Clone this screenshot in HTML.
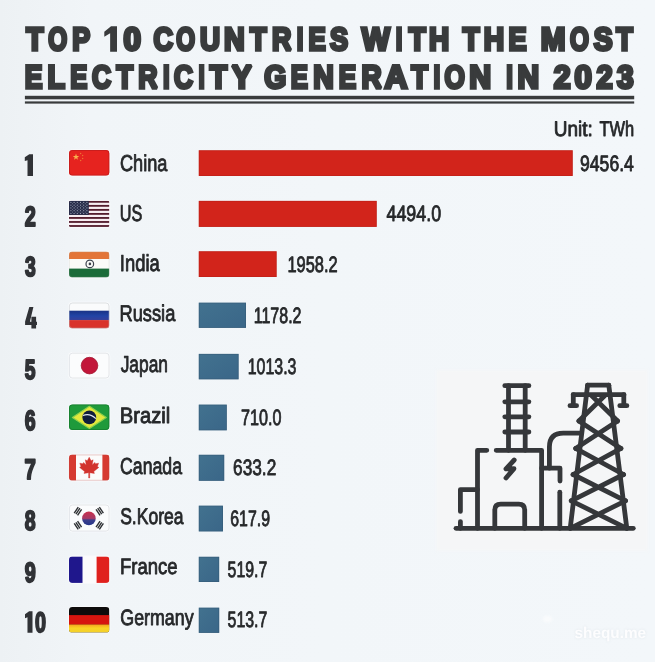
<!DOCTYPE html>
<html><head><meta charset="utf-8"><title>Top 10 Countries With The Most Electricity Generation In 2023</title>
<style>
html,body{margin:0;padding:0}
body{width:655px;height:662px;overflow:hidden;background:#f2f6f9}
svg{display:block;font-family:"Liberation Sans",sans-serif}
text{white-space:pre;text-rendering:geometricPrecision}
</style></head><body>
<svg width="655" height="662" viewBox="0 0 655 662">
<linearGradient id="bgg" x1="0" y1="0" x2="1" y2="0"><stop offset="0" stop-color="#edf1f4"/><stop offset="0.14" stop-color="#f1f5f8"/><stop offset="0.5" stop-color="#f2f6f9"/><stop offset="1" stop-color="#f3f7fa"/></linearGradient>
<rect width="655" height="662" fill="url(#bgg)"/>
<g opacity="0.999">
<text transform="translate(26.37,50.05) scale(0.8759,1)" font-size="32.12" fill="#393b3c" font-weight="bold" stroke="#393b3c" stroke-width="3.3" vector-effect="non-scaling-stroke" stroke-linejoin="miter" stroke-miterlimit="2">T</text>
<text transform="translate(48.28,50.40) scale(0.7626,1)" font-size="31.89" fill="#393b3c" font-weight="bold" stroke="#393b3c" stroke-width="3.3" vector-effect="non-scaling-stroke" stroke-linejoin="miter" stroke-miterlimit="2">O</text>
<text transform="translate(72.33,50.05) scale(0.8375,1)" font-size="32.12" fill="#393b3c" font-weight="bold" stroke="#393b3c" stroke-width="3.3" vector-effect="non-scaling-stroke" stroke-linejoin="miter" stroke-miterlimit="2">P</text>
<polygon points="117.00,26.30 111.03,26.30 104.30,31.63 104.30,36.84 110.14,33.16 110.14,51.70 117.00,51.70" fill="#393b3c"/>
<text transform="translate(123.60,50.40) scale(0.9837,1)" font-size="31.89" fill="#393b3c" font-weight="bold" stroke="#393b3c" stroke-width="3.3" vector-effect="non-scaling-stroke" stroke-linejoin="miter" stroke-miterlimit="2">0</text>
<text transform="translate(153.57,50.40) scale(0.8474,1)" font-size="31.89" fill="#393b3c" font-weight="bold" stroke="#393b3c" stroke-width="3.3" vector-effect="non-scaling-stroke" stroke-linejoin="miter" stroke-miterlimit="2">C</text>
<text transform="translate(176.28,50.40) scale(0.7580,1)" font-size="31.89" fill="#393b3c" font-weight="bold" stroke="#393b3c" stroke-width="3.3" vector-effect="non-scaling-stroke" stroke-linejoin="miter" stroke-miterlimit="2">O</text>
<text transform="translate(200.09,50.05) scale(0.8629,1)" font-size="32.12" fill="#393b3c" font-weight="bold" stroke="#393b3c" stroke-width="3.3" vector-effect="non-scaling-stroke" stroke-linejoin="miter" stroke-miterlimit="2">U</text>
<text transform="translate(224.12,50.05) scale(0.8902,1)" font-size="32.12" fill="#393b3c" font-weight="bold" stroke="#393b3c" stroke-width="3.3" vector-effect="non-scaling-stroke" stroke-linejoin="miter" stroke-miterlimit="2">N</text>
<text transform="translate(250.08,50.05) scale(0.8442,1)" font-size="32.12" fill="#393b3c" font-weight="bold" stroke="#393b3c" stroke-width="3.3" vector-effect="non-scaling-stroke" stroke-linejoin="miter" stroke-miterlimit="2">T</text>
<text transform="translate(272.04,50.05) scale(0.8367,1)" font-size="32.12" fill="#393b3c" font-weight="bold" stroke="#393b3c" stroke-width="3.3" vector-effect="non-scaling-stroke" stroke-linejoin="miter" stroke-miterlimit="2">R</text>
<text transform="translate(296.74,50.05) scale(0.7428,1)" font-size="32.12" fill="#393b3c" font-weight="bold" stroke="#393b3c" stroke-width="3.3" vector-effect="non-scaling-stroke" stroke-linejoin="miter" stroke-miterlimit="2">I</text>
<text transform="translate(308.40,50.05) scale(0.8061,1)" font-size="32.12" fill="#393b3c" font-weight="bold" stroke="#393b3c" stroke-width="3.3" vector-effect="non-scaling-stroke" stroke-linejoin="miter" stroke-miterlimit="2">E</text>
<text transform="translate(329.94,50.40) scale(0.8503,1)" font-size="31.89" fill="#393b3c" font-weight="bold" stroke="#393b3c" stroke-width="3.3" vector-effect="non-scaling-stroke" stroke-linejoin="miter" stroke-miterlimit="2">S</text>
<text transform="translate(361.65,50.05) scale(0.9282,1)" font-size="32.12" fill="#393b3c" font-weight="bold" stroke="#393b3c" stroke-width="3.3" vector-effect="non-scaling-stroke" stroke-linejoin="miter" stroke-miterlimit="2">W</text>
<text transform="translate(395.64,50.05) scale(0.7428,1)" font-size="32.12" fill="#393b3c" font-weight="bold" stroke="#393b3c" stroke-width="3.3" vector-effect="non-scaling-stroke" stroke-linejoin="miter" stroke-miterlimit="2">I</text>
<text transform="translate(408.77,50.05) scale(0.8653,1)" font-size="32.12" fill="#393b3c" font-weight="bold" stroke="#393b3c" stroke-width="3.3" vector-effect="non-scaling-stroke" stroke-linejoin="miter" stroke-miterlimit="2">T</text>
<text transform="translate(429.07,50.05) scale(0.8690,1)" font-size="32.12" fill="#393b3c" font-weight="bold" stroke="#393b3c" stroke-width="3.3" vector-effect="non-scaling-stroke" stroke-linejoin="miter" stroke-miterlimit="2">H</text>
<text transform="translate(462.68,50.05) scale(0.8548,1)" font-size="32.12" fill="#393b3c" font-weight="bold" stroke="#393b3c" stroke-width="3.3" vector-effect="non-scaling-stroke" stroke-linejoin="miter" stroke-miterlimit="2">T</text>
<text transform="translate(483.84,50.05) scale(0.8796,1)" font-size="32.12" fill="#393b3c" font-weight="bold" stroke="#393b3c" stroke-width="3.3" vector-effect="non-scaling-stroke" stroke-linejoin="miter" stroke-miterlimit="2">H</text>
<text transform="translate(508.42,50.05) scale(0.8450,1)" font-size="32.12" fill="#393b3c" font-weight="bold" stroke="#393b3c" stroke-width="3.3" vector-effect="non-scaling-stroke" stroke-linejoin="miter" stroke-miterlimit="2">E</text>
<text transform="translate(540.74,50.05) scale(0.9250,1)" font-size="32.12" fill="#393b3c" font-weight="bold" stroke="#393b3c" stroke-width="3.3" vector-effect="non-scaling-stroke" stroke-linejoin="miter" stroke-miterlimit="2">M</text>
<text transform="translate(570.08,50.40) scale(0.7626,1)" font-size="31.89" fill="#393b3c" font-weight="bold" stroke="#393b3c" stroke-width="3.3" vector-effect="non-scaling-stroke" stroke-linejoin="miter" stroke-miterlimit="2">O</text>
<text transform="translate(593.70,50.40) scale(0.8870,1)" font-size="31.89" fill="#393b3c" font-weight="bold" stroke="#393b3c" stroke-width="3.3" vector-effect="non-scaling-stroke" stroke-linejoin="miter" stroke-miterlimit="2">S</text>
<text transform="translate(616.18,50.05) scale(0.8442,1)" font-size="32.12" fill="#393b3c" font-weight="bold" stroke="#393b3c" stroke-width="3.3" vector-effect="non-scaling-stroke" stroke-linejoin="miter" stroke-miterlimit="2">T</text>
<text transform="translate(24.85,87.95) scale(0.8209,1)" font-size="32.41" fill="#393b3c" font-weight="bold" stroke="#393b3c" stroke-width="3.3" vector-effect="non-scaling-stroke" stroke-linejoin="miter" stroke-miterlimit="2">E</text>
<text transform="translate(47.41,87.95) scale(0.8849,1)" font-size="32.41" fill="#393b3c" font-weight="bold" stroke="#393b3c" stroke-width="3.3" vector-effect="non-scaling-stroke" stroke-linejoin="miter" stroke-miterlimit="2">L</text>
<text transform="translate(70.33,87.95) scale(0.7878,1)" font-size="32.41" fill="#393b3c" font-weight="bold" stroke="#393b3c" stroke-width="3.3" vector-effect="non-scaling-stroke" stroke-linejoin="miter" stroke-miterlimit="2">E</text>
<text transform="translate(91.99,88.30) scale(0.8211,1)" font-size="32.17" fill="#393b3c" font-weight="bold" stroke="#393b3c" stroke-width="3.3" vector-effect="non-scaling-stroke" stroke-linejoin="miter" stroke-miterlimit="2">C</text>
<text transform="translate(116.38,87.95) scale(0.8367,1)" font-size="32.41" fill="#393b3c" font-weight="bold" stroke="#393b3c" stroke-width="3.3" vector-effect="non-scaling-stroke" stroke-linejoin="miter" stroke-miterlimit="2">T</text>
<text transform="translate(138.35,87.95) scale(0.8243,1)" font-size="32.41" fill="#393b3c" font-weight="bold" stroke="#393b3c" stroke-width="3.3" vector-effect="non-scaling-stroke" stroke-linejoin="miter" stroke-miterlimit="2">R</text>
<text transform="translate(162.94,87.95) scale(0.7361,1)" font-size="32.41" fill="#393b3c" font-weight="bold" stroke="#393b3c" stroke-width="3.3" vector-effect="non-scaling-stroke" stroke-linejoin="miter" stroke-miterlimit="2">I</text>
<text transform="translate(174.10,88.30) scale(0.8163,1)" font-size="32.17" fill="#393b3c" font-weight="bold" stroke="#393b3c" stroke-width="3.3" vector-effect="non-scaling-stroke" stroke-linejoin="miter" stroke-miterlimit="2">C</text>
<text transform="translate(198.43,87.95) scale(0.6928,1)" font-size="32.41" fill="#393b3c" font-weight="bold" stroke="#393b3c" stroke-width="3.3" vector-effect="non-scaling-stroke" stroke-linejoin="miter" stroke-miterlimit="2">I</text>
<text transform="translate(209.87,87.95) scale(0.8785,1)" font-size="32.41" fill="#393b3c" font-weight="bold" stroke="#393b3c" stroke-width="3.3" vector-effect="non-scaling-stroke" stroke-linejoin="miter" stroke-miterlimit="2">T</text>
<text transform="translate(231.72,87.95) scale(0.9268,1)" font-size="32.41" fill="#393b3c" font-weight="bold" stroke="#393b3c" stroke-width="3.3" vector-effect="non-scaling-stroke" stroke-linejoin="miter" stroke-miterlimit="2">Y</text>
<text transform="translate(264.32,88.30) scale(0.8796,1)" font-size="32.17" fill="#393b3c" font-weight="bold" stroke="#393b3c" stroke-width="3.3" vector-effect="non-scaling-stroke" stroke-linejoin="miter" stroke-miterlimit="2">G</text>
<text transform="translate(290.71,87.95) scale(0.7933,1)" font-size="32.41" fill="#393b3c" font-weight="bold" stroke="#393b3c" stroke-width="3.3" vector-effect="non-scaling-stroke" stroke-linejoin="miter" stroke-miterlimit="2">E</text>
<text transform="translate(313.33,87.95) scale(0.8770,1)" font-size="32.41" fill="#393b3c" font-weight="bold" stroke="#393b3c" stroke-width="3.3" vector-effect="non-scaling-stroke" stroke-linejoin="miter" stroke-miterlimit="2">N</text>
<text transform="translate(338.69,87.95) scale(0.8044,1)" font-size="32.41" fill="#393b3c" font-weight="bold" stroke="#393b3c" stroke-width="3.3" vector-effect="non-scaling-stroke" stroke-linejoin="miter" stroke-miterlimit="2">E</text>
<text transform="translate(361.46,87.95) scale(0.8634,1)" font-size="32.41" fill="#393b3c" font-weight="bold" stroke="#393b3c" stroke-width="3.3" vector-effect="non-scaling-stroke" stroke-linejoin="miter" stroke-miterlimit="2">R</text>
<text transform="translate(384.46,87.95) scale(0.9808,1)" font-size="32.41" fill="#393b3c" font-weight="bold" stroke="#393b3c" stroke-width="3.3" vector-effect="non-scaling-stroke" stroke-linejoin="miter" stroke-miterlimit="2">A</text>
<text transform="translate(411.28,87.95) scale(0.8419,1)" font-size="32.41" fill="#393b3c" font-weight="bold" stroke="#393b3c" stroke-width="3.3" vector-effect="non-scaling-stroke" stroke-linejoin="miter" stroke-miterlimit="2">T</text>
<text transform="translate(433.49,87.95) scale(0.7578,1)" font-size="32.41" fill="#393b3c" font-weight="bold" stroke="#393b3c" stroke-width="3.3" vector-effect="non-scaling-stroke" stroke-linejoin="miter" stroke-miterlimit="2">I</text>
<text transform="translate(444.60,88.30) scale(0.8141,1)" font-size="32.17" fill="#393b3c" font-weight="bold" stroke="#393b3c" stroke-width="3.3" vector-effect="non-scaling-stroke" stroke-linejoin="miter" stroke-miterlimit="2">O</text>
<text transform="translate(469.30,87.95) scale(0.9348,1)" font-size="32.41" fill="#393b3c" font-weight="bold" stroke="#393b3c" stroke-width="3.3" vector-effect="non-scaling-stroke" stroke-linejoin="miter" stroke-miterlimit="2">N</text>
<text transform="translate(506.34,87.95) scale(0.7361,1)" font-size="32.41" fill="#393b3c" font-weight="bold" stroke="#393b3c" stroke-width="3.3" vector-effect="non-scaling-stroke" stroke-linejoin="miter" stroke-miterlimit="2">I</text>
<text transform="translate(517.53,87.95) scale(0.9242,1)" font-size="32.41" fill="#393b3c" font-weight="bold" stroke="#393b3c" stroke-width="3.3" vector-effect="non-scaling-stroke" stroke-linejoin="miter" stroke-miterlimit="2">N</text>
<text transform="translate(553.69,88.30) scale(0.9407,1)" font-size="32.17" fill="#393b3c" font-weight="bold" stroke="#393b3c" stroke-width="3.3" vector-effect="non-scaling-stroke" stroke-linejoin="miter" stroke-miterlimit="2">2</text>
<text transform="translate(574.40,88.30) scale(0.9686,1)" font-size="32.17" fill="#393b3c" font-weight="bold" stroke="#393b3c" stroke-width="3.3" vector-effect="non-scaling-stroke" stroke-linejoin="miter" stroke-miterlimit="2">0</text>
<text transform="translate(596.43,88.30) scale(0.9020,1)" font-size="32.17" fill="#393b3c" font-weight="bold" stroke="#393b3c" stroke-width="3.3" vector-effect="non-scaling-stroke" stroke-linejoin="miter" stroke-miterlimit="2">2</text>
<text transform="translate(616.88,88.30) scale(0.9310,1)" font-size="32.17" fill="#393b3c" font-weight="bold" stroke="#393b3c" stroke-width="3.3" vector-effect="non-scaling-stroke" stroke-linejoin="miter" stroke-miterlimit="2">3</text>
<rect x="24.90" y="95.80" width="609.30" height="3.50" fill="#393b3c" />
<rect x="24.90" y="101.40" width="609.30" height="2.20" fill="#393b3c" />
<text transform="translate(553.75,135.57) scale(0.8981,1)" font-size="21.15" fill="#26282a" stroke="#26282a" stroke-width="0.85" vector-effect="non-scaling-stroke" stroke-linejoin="round">Unit:</text>
<text transform="translate(599.56,135.57) scale(0.7764,1)" font-size="21.15" fill="#26282a" stroke="#26282a" stroke-width="0.85" vector-effect="non-scaling-stroke" stroke-linejoin="round">TWh</text>
<polygon points="33.00,154.20 29.31,154.20 24.80,157.20 24.80,161.10 27.51,160.20 27.51,176.00 33.00,176.00" fill="#303236"/>
<text transform="translate(24.70,225.90) scale(0.7079,1)" font-size="28.11" fill="#303236" font-weight="bold" stroke="#303236" stroke-width="2.0" vector-effect="non-scaling-stroke" stroke-linejoin="round">2</text>
<text transform="translate(24.97,275.90) scale(0.6970,1)" font-size="27.68" fill="#303236" font-weight="bold" stroke="#303236" stroke-width="2.0" vector-effect="non-scaling-stroke" stroke-linejoin="round">3</text>
<path d="M29.3,307.0 L33.4,307.0 L29.9,321.8 L37.0,321.8 L37.0,325.0 L25.1,325.0 L25.1,321.4 Z M31.4,316.8 L36.1,316.8 L36.1,328.5 L31.4,328.5 Z" fill="#303236"/>
<text transform="translate(24.82,378.50) scale(0.7006,1)" font-size="27.54" fill="#303236" font-weight="bold" stroke="#303236" stroke-width="2.0" vector-effect="non-scaling-stroke" stroke-linejoin="round">5</text>
<text transform="translate(24.87,430.10) scale(0.6966,1)" font-size="27.97" fill="#303236" font-weight="bold" stroke="#303236" stroke-width="2.0" vector-effect="non-scaling-stroke" stroke-linejoin="round">6</text>
<text transform="translate(24.53,479.10) scale(0.7244,1)" font-size="28.20" fill="#303236" font-weight="bold" stroke="#303236" stroke-width="2.0" vector-effect="non-scaling-stroke" stroke-linejoin="round">7</text>
<text transform="translate(24.77,530.10) scale(0.7041,1)" font-size="27.68" fill="#303236" font-weight="bold" stroke="#303236" stroke-width="2.0" vector-effect="non-scaling-stroke" stroke-linejoin="round">8</text>
<text transform="translate(24.71,581.80) scale(0.7042,1)" font-size="28.11" fill="#303236" font-weight="bold" stroke="#303236" stroke-width="2.0" vector-effect="non-scaling-stroke" stroke-linejoin="round">9</text>
<polygon points="32.50,611.30 29.12,611.30 25.00,614.30 25.00,618.20 27.48,617.30 27.48,632.80 32.50,632.80" fill="#303236"/>
<text transform="translate(35.11,632.20) scale(0.7005,1)" font-size="28.25" fill="#303236" font-weight="bold" stroke="#303236" stroke-width="2.0" vector-effect="non-scaling-stroke" stroke-linejoin="round">0</text>
<text transform="translate(120.02,170.57) scale(0.7878,1)" font-size="23.04" fill="#26282a" stroke="#26282a" stroke-width="0.85" vector-effect="non-scaling-stroke" stroke-linejoin="round">China</text>
<text transform="translate(119.67,220.67) scale(0.7038,1)" font-size="23.04" fill="#26282a" stroke="#26282a" stroke-width="0.85" vector-effect="non-scaling-stroke" stroke-linejoin="round">US</text>
<text transform="translate(119.82,271.38) scale(0.7942,1)" font-size="23.18" fill="#26282a" stroke="#26282a" stroke-width="0.85" vector-effect="non-scaling-stroke" stroke-linejoin="round">India</text>
<text transform="translate(119.42,321.47) scale(0.8046,1)" font-size="22.75" fill="#26282a" stroke="#26282a" stroke-width="0.85" vector-effect="non-scaling-stroke" stroke-linejoin="round">Russia</text>
<text transform="translate(120.66,372.27) scale(0.7494,1)" font-size="23.18" fill="#26282a" stroke="#26282a" stroke-width="0.85" vector-effect="non-scaling-stroke" stroke-linejoin="round">Japan</text>
<text transform="translate(119.86,422.97) scale(0.9050,1)" font-size="22.31" fill="#26282a" stroke="#26282a" stroke-width="0.85" vector-effect="non-scaling-stroke" stroke-linejoin="round">Brazil</text>
<text transform="translate(120.04,473.97) scale(0.7634,1)" font-size="23.18" fill="#26282a" stroke="#26282a" stroke-width="0.85" vector-effect="non-scaling-stroke" stroke-linejoin="round">Canada</text>
<text transform="translate(120.14,523.78) scale(0.7715,1)" font-size="22.75" fill="#26282a" stroke="#26282a" stroke-width="0.85" vector-effect="non-scaling-stroke" stroke-linejoin="round">S.Korea</text>
<text transform="translate(120.00,574.48) scale(0.8311,1)" font-size="22.31" fill="#26282a" stroke="#26282a" stroke-width="0.85" vector-effect="non-scaling-stroke" stroke-linejoin="round">France</text>
<text transform="translate(120.33,624.58) scale(0.8040,1)" font-size="22.17" fill="#26282a" stroke="#26282a" stroke-width="0.85" vector-effect="non-scaling-stroke" stroke-linejoin="round">Germany</text>
<text transform="translate(579.99,170.57) scale(0.7920,1)" font-size="22.25" fill="#26282a" stroke="#26282a" stroke-width="0.85" vector-effect="non-scaling-stroke" stroke-linejoin="round">9456.4</text>
<text transform="translate(386.52,221.32) scale(0.8016,1)" font-size="22.25" fill="#26282a" stroke="#26282a" stroke-width="0.85" vector-effect="non-scaling-stroke" stroke-linejoin="round">4494.0</text>
<text transform="translate(287.39,271.62) scale(0.7381,1)" font-size="22.25" fill="#26282a" stroke="#26282a" stroke-width="0.85" vector-effect="non-scaling-stroke" stroke-linejoin="round">1958.2</text>
<text transform="translate(253.72,322.52) scale(0.7197,1)" font-size="22.25" fill="#26282a" stroke="#26282a" stroke-width="0.85" vector-effect="non-scaling-stroke" stroke-linejoin="round">1178.2</text>
<text transform="translate(247.73,373.57) scale(0.7163,1)" font-size="22.25" fill="#26282a" stroke="#26282a" stroke-width="0.85" vector-effect="non-scaling-stroke" stroke-linejoin="round">1013.3</text>
<text transform="translate(240.92,424.73) scale(0.7269,1)" font-size="22.25" fill="#26282a" stroke="#26282a" stroke-width="0.85" vector-effect="non-scaling-stroke" stroke-linejoin="round">710.0</text>
<text transform="translate(233.06,474.68) scale(0.7756,1)" font-size="22.25" fill="#26282a" stroke="#26282a" stroke-width="0.85" vector-effect="non-scaling-stroke" stroke-linejoin="round">633.2</text>
<text transform="translate(230.23,525.83) scale(0.7142,1)" font-size="22.25" fill="#26282a" stroke="#26282a" stroke-width="0.85" vector-effect="non-scaling-stroke" stroke-linejoin="round">617.9</text>
<text transform="translate(227.59,576.62) scale(0.7127,1)" font-size="22.25" fill="#26282a" stroke="#26282a" stroke-width="0.85" vector-effect="non-scaling-stroke" stroke-linejoin="round">519.7</text>
<text transform="translate(227.59,627.33) scale(0.7146,1)" font-size="22.25" fill="#26282a" stroke="#26282a" stroke-width="0.85" vector-effect="non-scaling-stroke" stroke-linejoin="round">513.7</text>
<linearGradient id="bg1" x1="0" y1="0" x2="1" y2="1"><stop offset="0" stop-color="#42728f"/><stop offset="1" stop-color="#3a6688"/></linearGradient>
<rect x="198.80" y="150.30" width="373.90" height="25.70" fill="#d2241b" />
<rect x="199.20" y="150.70" width="373.10" height="24.90" fill="none" stroke="#b51f18" stroke-width="0.8" opacity="0.55"/>
<rect x="198.80" y="200.90" width="177.90" height="26.00" fill="#d2241b" />
<rect x="199.20" y="201.30" width="177.10" height="25.20" fill="none" stroke="#b51f18" stroke-width="0.8" opacity="0.55"/>
<rect x="198.80" y="251.30" width="77.80" height="25.70" fill="#d2241b" />
<rect x="199.20" y="251.70" width="77.00" height="24.90" fill="none" stroke="#b51f18" stroke-width="0.8" opacity="0.55"/>
<rect x="198.80" y="302.70" width="47.20" height="25.20" fill="url(#bg1)" />
<rect x="199.20" y="303.10" width="46.40" height="24.40" fill="none" stroke="#34566f" stroke-width="0.8" opacity="0.5"/>
<rect x="198.80" y="353.90" width="39.80" height="25.40" fill="url(#bg1)" />
<rect x="199.20" y="354.30" width="39.00" height="24.60" fill="none" stroke="#34566f" stroke-width="0.8" opacity="0.5"/>
<rect x="198.80" y="404.65" width="28.00" height="25.65" fill="url(#bg1)" />
<rect x="199.20" y="405.05" width="27.20" height="24.85" fill="none" stroke="#34566f" stroke-width="0.8" opacity="0.5"/>
<rect x="198.80" y="454.80" width="25.40" height="26.00" fill="url(#bg1)" />
<rect x="199.20" y="455.20" width="24.60" height="25.20" fill="none" stroke="#34566f" stroke-width="0.8" opacity="0.5"/>
<rect x="198.80" y="505.70" width="24.20" height="25.70" fill="url(#bg1)" />
<rect x="199.20" y="506.10" width="23.40" height="24.90" fill="none" stroke="#34566f" stroke-width="0.8" opacity="0.5"/>
<rect x="198.80" y="556.80" width="20.35" height="25.20" fill="url(#bg1)" />
<rect x="199.20" y="557.20" width="19.55" height="24.40" fill="none" stroke="#34566f" stroke-width="0.8" opacity="0.5"/>
<rect x="198.80" y="607.70" width="20.40" height="25.20" fill="url(#bg1)" />
<rect x="199.20" y="608.10" width="19.60" height="24.40" fill="none" stroke="#34566f" stroke-width="0.8" opacity="0.5"/>
</g>
<rect x="68.2" y="149.2" width="42.0" height="27.2" rx="4.2" ry="4.2" fill="#fbfcfd" opacity="0.85" style="filter:blur(0.6px)"/>
<clipPath id="fc1"><rect x="69.0" y="150.0" width="40.4" height="25.6" rx="3.4" ry="3.4"/></clipPath>
<g clip-path="url(#fc1)"><rect x="69.0" y="150.0" width="40.400000000000006" height="25.599999999999994" fill="#e6231f"/>
<polygon points="76.00,153.60 76.80,155.90 79.23,155.95 77.29,157.42 78.00,159.75 76.00,158.36 74.00,159.75 74.71,157.42 72.77,155.95 75.20,155.90" fill="#f8b04c"/>
<circle cx="80.6" cy="153.6" r="0.75" fill="#f08a3a" opacity="0.75"/>
<circle cx="82.6" cy="155.6" r="0.75" fill="#f08a3a" opacity="0.75"/>
<circle cx="82.6" cy="158.6" r="0.75" fill="#f08a3a" opacity="0.75"/>
<circle cx="80.6" cy="160.6" r="0.75" fill="#f08a3a" opacity="0.75"/>
</g>
<rect x="69.5" y="150.5" width="39.4" height="24.6" rx="2.9" ry="2.9" fill="none" stroke="#c31d1d" stroke-width="1.0" opacity="0.8"/>
<rect x="68.2" y="200.0" width="42.0" height="27.8" rx="2.4000000000000004" ry="2.4000000000000004" fill="#fbfcfd" opacity="0.85" style="filter:blur(0.6px)"/>
<clipPath id="fc2"><rect x="69.0" y="200.8" width="40.4" height="26.2" rx="1.6" ry="1.6"/></clipPath>
<g clip-path="url(#fc2)"><rect x="69.0" y="200.8" width="40.400000000000006" height="26.19999999999999" fill="#f7edf1"/>
<rect x="69.0" y="200.90" width="40.400000000000006" height="1.82" fill="#541c2d"/>
<rect x="69.0" y="204.93" width="40.400000000000006" height="1.82" fill="#541c2d"/>
<rect x="69.0" y="208.96" width="40.400000000000006" height="1.82" fill="#541c2d"/>
<rect x="69.0" y="212.99" width="40.400000000000006" height="1.82" fill="#541c2d"/>
<rect x="69.0" y="217.02" width="40.400000000000006" height="1.82" fill="#541c2d"/>
<rect x="69.0" y="221.05" width="40.400000000000006" height="1.82" fill="#541c2d"/>
<rect x="69.0" y="225.08" width="40.400000000000006" height="1.82" fill="#541c2d"/>
<rect x="69.0" y="200.8" width="19.8" height="14.11" fill="#272c49"/>
<circle cx="70.90" cy="202.40" r="0.6" fill="#c9cede" opacity="0.7"/>
<circle cx="74.10" cy="202.40" r="0.6" fill="#c9cede" opacity="0.7"/>
<circle cx="77.30" cy="202.40" r="0.6" fill="#c9cede" opacity="0.7"/>
<circle cx="80.50" cy="202.40" r="0.6" fill="#c9cede" opacity="0.7"/>
<circle cx="83.70" cy="202.40" r="0.6" fill="#c9cede" opacity="0.7"/>
<circle cx="86.90" cy="202.40" r="0.6" fill="#c9cede" opacity="0.7"/>
<circle cx="70.90" cy="205.15" r="0.6" fill="#c9cede" opacity="0.7"/>
<circle cx="74.10" cy="205.15" r="0.6" fill="#c9cede" opacity="0.7"/>
<circle cx="77.30" cy="205.15" r="0.6" fill="#c9cede" opacity="0.7"/>
<circle cx="80.50" cy="205.15" r="0.6" fill="#c9cede" opacity="0.7"/>
<circle cx="83.70" cy="205.15" r="0.6" fill="#c9cede" opacity="0.7"/>
<circle cx="86.90" cy="205.15" r="0.6" fill="#c9cede" opacity="0.7"/>
<circle cx="70.90" cy="207.90" r="0.6" fill="#c9cede" opacity="0.7"/>
<circle cx="74.10" cy="207.90" r="0.6" fill="#c9cede" opacity="0.7"/>
<circle cx="77.30" cy="207.90" r="0.6" fill="#c9cede" opacity="0.7"/>
<circle cx="80.50" cy="207.90" r="0.6" fill="#c9cede" opacity="0.7"/>
<circle cx="83.70" cy="207.90" r="0.6" fill="#c9cede" opacity="0.7"/>
<circle cx="86.90" cy="207.90" r="0.6" fill="#c9cede" opacity="0.7"/>
<circle cx="70.90" cy="210.65" r="0.6" fill="#c9cede" opacity="0.7"/>
<circle cx="74.10" cy="210.65" r="0.6" fill="#c9cede" opacity="0.7"/>
<circle cx="77.30" cy="210.65" r="0.6" fill="#c9cede" opacity="0.7"/>
<circle cx="80.50" cy="210.65" r="0.6" fill="#c9cede" opacity="0.7"/>
<circle cx="83.70" cy="210.65" r="0.6" fill="#c9cede" opacity="0.7"/>
<circle cx="86.90" cy="210.65" r="0.6" fill="#c9cede" opacity="0.7"/>
<circle cx="70.90" cy="213.40" r="0.6" fill="#c9cede" opacity="0.7"/>
<circle cx="74.10" cy="213.40" r="0.6" fill="#c9cede" opacity="0.7"/>
<circle cx="77.30" cy="213.40" r="0.6" fill="#c9cede" opacity="0.7"/>
<circle cx="80.50" cy="213.40" r="0.6" fill="#c9cede" opacity="0.7"/>
<circle cx="83.70" cy="213.40" r="0.6" fill="#c9cede" opacity="0.7"/>
<circle cx="86.90" cy="213.40" r="0.6" fill="#c9cede" opacity="0.7"/>
<circle cx="72.50" cy="203.77" r="0.55" fill="#c9cede" opacity="0.55"/>
<circle cx="75.70" cy="203.77" r="0.55" fill="#c9cede" opacity="0.55"/>
<circle cx="78.90" cy="203.77" r="0.55" fill="#c9cede" opacity="0.55"/>
<circle cx="82.10" cy="203.77" r="0.55" fill="#c9cede" opacity="0.55"/>
<circle cx="85.30" cy="203.77" r="0.55" fill="#c9cede" opacity="0.55"/>
<circle cx="72.50" cy="206.52" r="0.55" fill="#c9cede" opacity="0.55"/>
<circle cx="75.70" cy="206.52" r="0.55" fill="#c9cede" opacity="0.55"/>
<circle cx="78.90" cy="206.52" r="0.55" fill="#c9cede" opacity="0.55"/>
<circle cx="82.10" cy="206.52" r="0.55" fill="#c9cede" opacity="0.55"/>
<circle cx="85.30" cy="206.52" r="0.55" fill="#c9cede" opacity="0.55"/>
<circle cx="72.50" cy="209.27" r="0.55" fill="#c9cede" opacity="0.55"/>
<circle cx="75.70" cy="209.27" r="0.55" fill="#c9cede" opacity="0.55"/>
<circle cx="78.90" cy="209.27" r="0.55" fill="#c9cede" opacity="0.55"/>
<circle cx="82.10" cy="209.27" r="0.55" fill="#c9cede" opacity="0.55"/>
<circle cx="85.30" cy="209.27" r="0.55" fill="#c9cede" opacity="0.55"/>
<circle cx="72.50" cy="212.02" r="0.55" fill="#c9cede" opacity="0.55"/>
<circle cx="75.70" cy="212.02" r="0.55" fill="#c9cede" opacity="0.55"/>
<circle cx="78.90" cy="212.02" r="0.55" fill="#c9cede" opacity="0.55"/>
<circle cx="82.10" cy="212.02" r="0.55" fill="#c9cede" opacity="0.55"/>
<circle cx="85.30" cy="212.02" r="0.55" fill="#c9cede" opacity="0.55"/>
</g>
<rect x="68.2" y="250.79999999999998" width="42.0" height="27.5" rx="4.2" ry="4.2" fill="#fbfcfd" opacity="0.85" style="filter:blur(0.6px)"/>
<clipPath id="fc3"><rect x="69.0" y="251.6" width="40.4" height="25.9" rx="3.4" ry="3.4"/></clipPath>
<g clip-path="url(#fc3)"><rect x="69.0" y="251.6" width="40.400000000000006" height="25.900000000000006" fill="#fbfbf8"/>
<rect x="69.0" y="251.6" width="40.400000000000006" height="7.4" fill="#e37538"/>
<rect x="69.0" y="268.6" width="40.400000000000006" height="8.9" fill="#1b6b39"/>
</g>
<circle cx="89.8" cy="263.9" r="3.8" fill="none" stroke="#3d434d" stroke-width="1.2"/><circle cx="89.9" cy="263.9" r="1.3" fill="#3d434d"/>
<rect x="69.3" y="251.9" width="39.8" height="25.3" rx="3.1" ry="3.1" fill="none" stroke="#a8b0a8" stroke-width="0.6" opacity="0.35"/>
<rect x="68.2" y="301.8" width="42.0" height="27.5" rx="4.2" ry="4.2" fill="#fbfcfd" opacity="0.85" style="filter:blur(0.6px)"/>
<clipPath id="fc4"><rect x="69.0" y="302.6" width="40.4" height="25.9" rx="3.4" ry="3.4"/></clipPath>
<linearGradient id="rub" x1="0" y1="0" x2="0" y2="1"><stop offset="0" stop-color="#1a3386"/><stop offset="0.55" stop-color="#2244a6"/><stop offset="1" stop-color="#3a3f98"/></linearGradient>
<g clip-path="url(#fc4)"><rect x="69.0" y="302.6" width="40.400000000000006" height="25.899999999999977" fill="#fafbfc"/>
<rect x="69.0" y="310.7" width="40.400000000000006" height="9.6" fill="url(#rub)"/>
<rect x="69.0" y="320.1" width="40.400000000000006" height="8.4" fill="#d9322b"/>
</g>
<rect x="69.4" y="303.0" width="39.6" height="25.1" rx="3.0" ry="3.0" fill="none" stroke="#b9bec4" stroke-width="0.8" opacity="0.55"/>
<rect x="68.2" y="352.0" width="42.0" height="27.2" rx="4.2" ry="4.2" fill="#fbfcfd" opacity="0.85" style="filter:blur(0.6px)"/>
<clipPath id="fc5"><rect x="69.0" y="352.8" width="40.4" height="25.6" rx="3.4" ry="3.4"/></clipPath>
<g clip-path="url(#fc5)"><rect x="69.0" y="352.8" width="40.400000000000006" height="25.599999999999966" fill="#fbfcfd"/></g>
<rect x="69.4" y="353.2" width="39.6" height="24.8" rx="3.0" ry="3.0" fill="none" stroke="#c5cad0" stroke-width="0.8" opacity="0.55"/>
<circle cx="89.5" cy="365.6" r="8.3" fill="#c2173a" stroke="#a3142f" stroke-width="0.8"/>
<rect x="68.2" y="403.59999999999997" width="42.0" height="27.2" rx="4.2" ry="4.2" fill="#fbfcfd" opacity="0.85" style="filter:blur(0.6px)"/>
<clipPath id="fc6"><rect x="69.0" y="404.4" width="40.4" height="25.6" rx="3.4" ry="3.4"/></clipPath>
<g clip-path="url(#fc6)"><rect x="69.0" y="404.4" width="40.400000000000006" height="25.600000000000023" fill="#1f9a3b"/>
<polygon points="72.4,417.4 89.4,406.2 106.3,417.4 89.4,428.6" fill="#e4e83c" stroke="#8fd04a" stroke-width="1.2" stroke-linejoin="round"/>
<circle cx="89.3" cy="417.4" r="6.9" fill="#101e3c"/>
<path d="M82.9,415.6 Q89.5,412.6 95.9,418.6" fill="none" stroke="#dfe6f0" stroke-width="1.1"/>
</g>
<rect x="69.5" y="404.9" width="39.4" height="24.6" rx="2.9" ry="2.9" fill="none" stroke="#167c2f" stroke-width="1.0" opacity="0.8"/>
<rect x="68.2" y="453.8" width="42.0" height="27.6" rx="4.2" ry="4.2" fill="#fbfcfd" opacity="0.85" style="filter:blur(0.6px)"/>
<clipPath id="fc7"><rect x="69.0" y="454.6" width="40.4" height="26.0" rx="3.4" ry="3.4"/></clipPath>
<g clip-path="url(#fc7)"><rect x="69.0" y="454.6" width="40.400000000000006" height="26.0" fill="#fbfbfb"/>
<rect x="69.0" y="454.6" width="7.0" height="26.0" fill="#d63a31"/>
<rect x="102.4" y="454.6" width="7.0" height="26.0" fill="#d63a31"/>
</g>
<rect x="69.35" y="454.95000000000005" width="39.7" height="25.3" rx="3.05" ry="3.05" fill="none" stroke="#b94a44" stroke-width="0.7" opacity="0.4"/>
<path d="M0,-10.4 L1.9,-6.8 L3.9,-7.8 L3.0,-2.6 L5.6,-5.2 L6.2,-3.8 L9.4,-4.4 L8.2,-1.0 L9.6,-0.2 L4.6,3.9 L5.2,5.8 L0.55,5.1 L0.55,10.4 L-0.55,10.4 L-0.55,5.1 L-5.2,5.8 L-4.6,3.9 L-9.6,-0.2 L-8.2,-1.0 L-9.4,-4.4 L-6.2,-3.8 L-5.6,-5.2 L-3.0,-2.6 L-3.9,-7.8 L-1.9,-6.8 Z" transform="translate(89.2,467.6) scale(1.0,1.0)" fill="#d2332d" stroke="#d2332d" stroke-width="0.4" stroke-linejoin="round"/>
<rect x="68.2" y="503.8" width="42.0" height="28.5" rx="4.2" ry="4.2" fill="#fbfcfd" opacity="0.85" style="filter:blur(0.6px)"/>
<clipPath id="fc8"><rect x="69.0" y="504.6" width="40.4" height="26.9" rx="3.4" ry="3.4"/></clipPath>
<g clip-path="url(#fc8)"><rect x="69.0" y="504.6" width="40.400000000000006" height="26.899999999999977" fill="#fbfcfd"/></g>
<rect x="69.4" y="505.0" width="39.6" height="26.1" rx="3.0" ry="3.0" fill="none" stroke="#c5cad0" stroke-width="0.8" opacity="0.55"/>
<linearGradient id="krg" x1="0" y1="0" x2="0" y2="1"><stop offset="0" stop-color="#c9304c"/><stop offset="0.5" stop-color="#a63a66"/><stop offset="0.62" stop-color="#3a3f8c"/><stop offset="1" stop-color="#27368a"/></linearGradient>
<circle cx="88.9" cy="518.4" r="6.8" fill="url(#krg)"/>
<g transform="translate(77.9,511.2) rotate(-56)" fill="#2e3033"><rect x="-3.6" y="-2.70" width="7.2" height="1.4"/><rect x="-3.6" y="-0.70" width="7.2" height="1.4"/><rect x="-3.6" y="1.30" width="7.2" height="1.4"/></g>
<g transform="translate(99.7,511.2) rotate(56)" fill="#2e3033"><rect x="-3.6" y="-2.70" width="7.2" height="1.4"/><rect x="-3.6" y="-0.70" width="7.2" height="1.4"/><rect x="-3.6" y="1.30" width="7.2" height="1.4"/></g>
<g transform="translate(77.9,525.3) rotate(56)" fill="#2e3033"><rect x="-3.6" y="-2.70" width="7.2" height="1.4"/><rect x="-3.6" y="-0.70" width="7.2" height="1.4"/><rect x="-3.6" y="1.30" width="7.2" height="1.4"/></g>
<g transform="translate(99.7,525.3) rotate(-56)" fill="#2e3033"><rect x="-3.6" y="-2.70" width="7.2" height="1.4"/><rect x="-3.6" y="-0.70" width="7.2" height="1.4"/><rect x="-3.6" y="1.30" width="7.2" height="1.4"/></g>
<rect x="68.2" y="555.6" width="42.0" height="28.1" rx="4.2" ry="4.2" fill="#fbfcfd" opacity="0.85" style="filter:blur(0.6px)"/>
<clipPath id="fc9"><rect x="69.0" y="556.4" width="40.4" height="26.5" rx="3.4" ry="3.4"/></clipPath>
<g clip-path="url(#fc9)"><rect x="69.0" y="556.4" width="40.400000000000006" height="26.5" fill="#fbfbfc"/>
<rect x="69.0" y="556.4" width="13.5" height="26.5" fill="#1f178c"/>
<rect x="96.6" y="556.4" width="12.8" height="26.5" fill="#e0211e"/>
</g>
<rect x="68.2" y="606.2" width="42.0" height="27.2" rx="4.2" ry="4.2" fill="#fbfcfd" opacity="0.85" style="filter:blur(0.6px)"/>
<clipPath id="fc10"><rect x="69.0" y="607.0" width="40.4" height="25.6" rx="3.4" ry="3.4"/></clipPath>
<linearGradient id="deg" x1="0" y1="0" x2="0" y2="1"><stop offset="0" stop-color="#f5a31f"/><stop offset="0.45" stop-color="#f8d524"/><stop offset="1" stop-color="#f3cf2c"/></linearGradient>
<g clip-path="url(#fc10)"><rect x="69.0" y="607.0" width="40.400000000000006" height="25.600000000000023" fill="#0d0b0b"/>
<rect x="69.0" y="615.1" width="40.400000000000006" height="9.6" fill="#d6150f"/>
<rect x="69.0" y="624.5" width="40.400000000000006" height="8.1" fill="url(#deg)"/>
</g>
<rect x="436" y="370" width="212" height="181" fill="#f5f6f7" style="filter:blur(1.5px)"/>
<g fill="none" stroke="#35373a" stroke-width="4.8" stroke-linecap="round" stroke-linejoin="round">
<path d="M456.0,528.3 L633.3,528.3"/>
<path d="M508.5,385.7 L508.5,450.3"/>
<path d="M525.2,385.7 L525.2,450.3"/>
<path d="M504.8,385.7 L528.9,385.7"/>
<path d="M504.8,401.8 L528.9,401.8"/>
<path d="M504.8,416.8 L528.9,416.8"/>
<path d="M504.8,432.0 L528.9,432.0"/>
<path d="M486.8,450.3 L477.5,450.3 L477.5,528.3"/>
<path d="M496.2,450.3 L541.6,450.3 L541.6,528.3"/>
<path d="M514.2,460.0 L506.0,468.9 L514.0,468.6 L506.0,478.0"/>
<path d="M494.8,528.3 L494.8,510.0 Q494.8,504.1 500.7,504.1 L518.8,504.1 Q524.7,504.1 524.7,510.0 L524.7,528.3"/>
<path d="M477.5,489.6 L460.4,489.6 L460.4,511.4"/>
<path d="M460.4,521.6 L460.4,528.3"/>
<path d="M541.6,468.2 L560.0,468.2 L560.0,481.0"/>
<path d="M559.8,492.2 L559.8,528.3"/>
<path d="M549.4,468.2 L549.4,447.0 Q549.4,433.1 563.3,433.1 L579.6,433.1"/>
<path d="M587.6,385.2 L570.2,528.3"/>
<path d="M608.8,385.2 L626.8,528.3"/>
<path d="M587.6,385.2 L608.8,385.2"/>
<path d="M573.2,394.7 L624.0,394.7"/>
<path d="M573.3,394.7 L573.3,404.0"/>
<path d="M623.8,394.7 L623.8,404.0"/>
<path d="M570.0,405.7 L576.6,405.7"/>
<path d="M619.8,405.7 L626.9,405.7"/>
<clipPath id="twc"><rect x="560" y="394.7" width="80" height="40"/></clipPath>
<path d="M586.9,391.0 L617.6,421.0 M609.5,391.0 L578.9,421.0" clip-path="url(#twc)"/>
<path d="M578.9,421.0 L621.0,448.4 M617.6,421.0 L575.6,448.4"/>
<path d="M575.6,448.4 L623.6,474.5 M621.0,448.4 L573.1,474.5"/>
<path d="M573.1,474.5 L625.5,500.8 M623.6,474.5 L571.3,500.8"/>
<path d="M571.3,500.8 L626.8,528.3 M625.5,500.8 L570.2,528.3"/>
</g>
<ellipse cx="547.5" cy="619" rx="4.5" ry="3.2" fill="#fbfcfd" opacity="0.8" style="filter:blur(1px)"/>
<text transform="translate(574.5,637.6) scale(0.99,1)" font-size="15.5" font-weight="bold" fill="#fdfdfe" style="filter:drop-shadow(0 0 1px rgba(222,228,234,0.9))">shequ.me</text>
</svg>
</body></html>
